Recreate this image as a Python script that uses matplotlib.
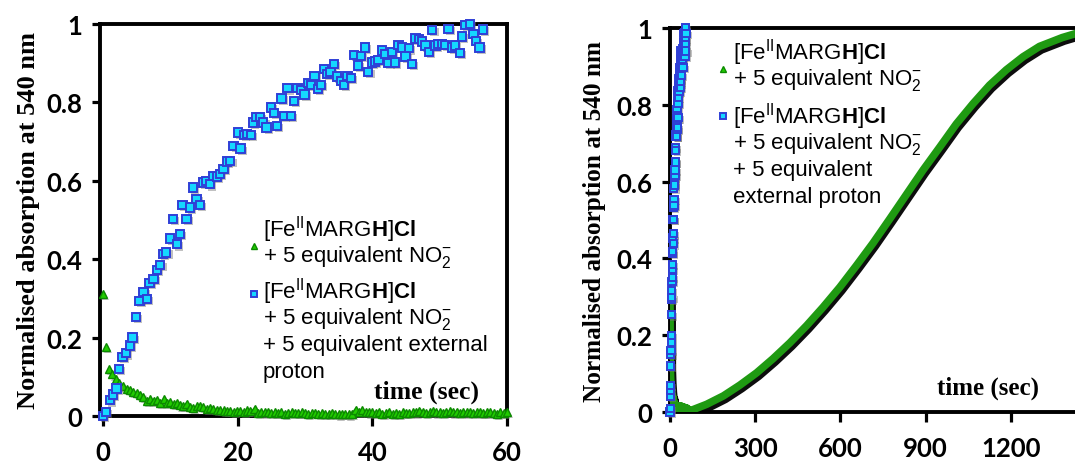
import numpy as np
import matplotlib
matplotlib.use("Agg")
import matplotlib.pyplot as plt
import matplotlib.patheffects as pe

plt.rcParams['mathtext.fontset'] = 'custom'
plt.rcParams['mathtext.rm'] = 'Liberation Sans'
plt.rcParams['mathtext.it'] = 'Liberation Sans:italic'
plt.rcParams['mathtext.bf'] = 'Liberation Sans:bold'

# --- data: proton-assisted run (squares), seconds vs normalised A540
t_prot = [0.0, 0.4, 1.0, 1.5, 2.0, 2.4, 2.9, 3.4, 4.0, 4.4, 4.9, 5.4, 6.0, 6.5, 6.9,
          7.5, 8.0, 8.5, 8.9, 9.4, 9.9, 10.4, 11.0, 11.4, 11.8, 12.4, 12.9, 13.4, 13.9,
          14.4, 14.9, 15.3, 15.9, 16.4, 16.9, 17.4, 17.9, 18.4, 18.9, 19.4, 20.0, 20.4,
          20.9, 21.4, 22.0, 22.3, 22.7, 23.3, 23.8, 24.3, 24.9, 25.4, 25.8, 26.5, 26.9,
          27.4, 27.9, 28.4, 28.9, 29.4, 29.9, 30.4, 30.9, 31.4, 31.9, 32.4, 32.8, 33.3,
          33.8, 34.3, 34.8, 35.3, 35.8, 36.3, 36.8, 37.3, 37.9, 38.3, 38.9, 39.4, 39.9,
          40.4, 40.9, 41.4, 41.9, 42.4, 42.9, 43.4, 43.9, 44.4, 44.9, 45.4, 45.9, 46.4,
          46.9, 47.4, 47.9, 48.4, 48.9, 49.4, 49.8, 50.3, 50.8, 51.3, 51.8, 52.3, 53.0,
          53.3, 53.8, 54.5, 55.0, 55.4, 55.9, 56.4]
a_prot = [0.0, 0.01, 0.04, 0.055, 0.07, 0.12, 0.15, 0.16, 0.18, 0.2, 0.253, 0.294, 0.317,
          0.298, 0.34, 0.35, 0.372, 0.385, 0.413, 0.417, 0.453, 0.502, 0.438, 0.464, 0.538,
          0.502, 0.532, 0.583, 0.553, 0.538, 0.596, 0.6, 0.591, 0.613, 0.611, 0.617, 0.63,
          0.649, 0.651, 0.689, 0.723, 0.682, 0.717, 0.719, 0.717, 0.749, 0.763, 0.763, 0.749,
          0.736, 0.787, 0.773, 0.74, 0.81, 0.765, 0.836, 0.766, 0.804, 0.836, 0.832, 0.82,
          0.85, 0.845, 0.868, 0.834, 0.845, 0.885, 0.872, 0.877, 0.898, 0.866, 0.855, 0.845,
          0.868, 0.862, 0.921, 0.894, 0.919, 0.94, 0.877, 0.902, 0.904, 0.909, 0.932, 0.923,
          0.9, 0.928, 0.902, 0.946, 0.94, 0.917, 0.938, 0.898, 0.963, 0.962, 0.955, 0.945,
          0.929, 0.985, 0.945, 0.949, 0.949, 0.946, 0.987, 0.94, 0.945, 0.926, 0.968, 0.997,
          1.0, 0.974, 0.957, 0.94, 0.986]

# --- data: nitrite only run (triangles), first minute
t_nit = [0.0, 0.45, 0.9, 1.4, 1.9, 2.4, 3.0, 3.5, 4.0, 4.5, 5.0, 5.5, 6.0, 6.5, 7.0, 7.5,
         8.0, 8.5, 9.0, 9.5, 10.0, 10.5, 11.0, 11.4, 11.9, 12.4, 12.9, 13.4, 13.9, 14.4,
         14.9, 15.4, 15.9, 16.4, 16.9, 17.4, 17.9, 18.4, 18.9, 19.4, 19.9, 20.4, 20.9,
         21.4, 21.9, 22.5, 23.0, 23.5, 24.0, 24.5, 25.0, 25.5, 26.0, 26.5, 27.0, 27.5,
         28.0, 28.5, 29.0, 29.5, 30.0, 30.5, 31.0, 31.5, 32.0, 32.5, 33.0, 33.5, 34.0,
         34.5, 35.0, 35.5, 36.0, 36.5, 37.0, 37.5, 38.0, 38.5, 39.0, 39.5, 40.0, 40.5,
         41.0, 41.5, 42.0, 42.5, 43.0, 43.5, 44.0, 44.5, 45.0, 45.5, 46.0, 46.5, 47.0,
         47.5, 48.0, 48.5, 49.0, 49.5, 50.0, 50.5, 51.0, 51.5, 52.0, 52.5, 53.0, 53.5,
         54.0, 54.5, 55.0, 55.5, 56.0, 56.5, 57.0, 57.5, 58.0, 58.5, 59.0, 59.5, 60.0]
a_nit = [0.311, 0.177, 0.119, 0.106, 0.094, 0.085, 0.077, 0.07, 0.066, 0.061, 0.058, 0.053,
         0.049, 0.038, 0.044, 0.038, 0.041, 0.034, 0.043, 0.034, 0.036, 0.03, 0.032, 0.027,
         0.026, 0.03, 0.024, 0.02, 0.026, 0.026, 0.022, 0.019, 0.02, 0.017, 0.016, 0.015,
         0.014, 0.012, 0.013, 0.011, 0.012, 0.013, 0.011, 0.014, 0.012, 0.018, 0.008,
         0.01, 0.009, 0.01, 0.008, 0.009, 0.007, 0.009, 0.006, 0.008, 0.01, 0.007, 0.008,
         0.009, 0.007, 0.006, 0.008, 0.007, 0.006, 0.007, 0.005, 0.006, 0.007, 0.005,
         0.004, 0.006, 0.005, 0.004, 0.005, 0.015, 0.011, 0.016, 0.01, 0.009, 0.011, 0.007,
         0.009, 0.006, 0.008, 0.01, 0.006, 0.008, 0.005, 0.009, 0.008, 0.007, 0.01, 0.009,
         0.013, 0.011, 0.008, 0.01, 0.012, 0.009, 0.011, 0.008, 0.01, 0.012, 0.009, 0.011,
         0.008, 0.01, 0.009, 0.011, 0.008, 0.01, 0.009, 0.007, 0.009, 0.01, 0.008, 0.006,
         0.009, 0.008, 0.01]

# nitrite only run, long time scale (after the first minute)
t_nit_long = [70, 129, 188, 246, 305, 363, 422, 481, 539, 598, 657, 715, 774, 832, 891,
              950, 1008, 1067, 1125, 1184, 1243, 1301, 1381, 1440, 1500]
a_nit_long = [0.003, 0.02, 0.042, 0.07, 0.102, 0.139, 0.18, 0.225, 0.273, 0.325, 0.382,
              0.44, 0.503, 0.566, 0.63, 0.69, 0.75, 0.803, 0.851, 0.891, 0.925, 0.952,
              0.975, 0.988, 1.0]

y_ticks = [0, 0.2, 0.4, 0.6, 0.8, 1.0]
y_ticklabels = ["0", "0.2", "0.4", "0.6", "0.8", "1"]
x_ticks_left = [0, 20, 40, 60]
x_ticks_right = [0, 300, 600, 900, 1200]

label_nit = ["[Fe$^{\\mathrm{II}}$MARG$\\mathbf{H}$]$\\mathbf{Cl}$",
             "+ 5 equivalent NO$_2^{-}$"]
label_prot_left = ["[Fe$^{\\mathrm{II}}$MARG$\\mathbf{H}$]$\\mathbf{Cl}$",
                   "+ 5 equivalent NO$_2^{-}$",
                   "+ 5 equivalent external",
                   "proton"]
label_prot_right = ["[Fe$^{\\mathrm{II}}$MARG$\\mathbf{H}$]$\\mathbf{Cl}$",
                    "+ 5 equivalent NO$_2^{-}$",
                    "+ 5 equivalent",
                    "external proton"]

W, H = 1075, 464
fig = plt.figure(figsize=(W / 100, H / 100), dpi=100)

SQ = dict(marker='s', ms=6.0, mfc='#14d8ff', mec='#2f3fd6', mew=1.4, ls='none')
TRI = dict(marker='^', ms=5.8, mfc='#22cc00', mec='#0b8a00', mew=1.0, ls='none')
shadow = [pe.SimplePatchShadow(offset=(1.5, -1.5), shadow_rgbFace='#777777', alpha=0.45),
          pe.Normal()]


def px_ax(l, r, t, b):
    return [l / W, 1 - b / H, (r - l) / W, (b - t) / H]


def style(ax):
    for s in ax.spines.values():
        s.set_linewidth(2.8)
    ax.tick_params(direction='out', length=6, width=2.3, pad=7)
    ax.tick_params(axis='x', length=7, pad=10)
    for lab in ax.get_xticklabels() + ax.get_yticklabels():
        lab.set_fontfamily('Lato')
        lab.set_fontweight('bold')
        lab.set_fontsize(18.5)


def legend_block(mx, my, marker_style, lines, tx, ty, step, size=16):
    fig.add_artist(plt.Line2D([mx / W], [1 - my / H], transform=fig.transFigure,
                              **{**marker_style, 'ms': 4.5}))
    for i, txt in enumerate(lines):
        fig.text(tx / W, 1 - (ty + i * step) / H, txt, fontsize=size,
                 family='Liberation Sans', va='center', ha='left')


# left panel: first minute
ax1 = fig.add_axes(px_ax(100, 507, 25, 417))
ax1.plot(t_nit, a_nit, path_effects=shadow, clip_on=False, zorder=3, **TRI)
ax1.plot(t_prot, a_prot, path_effects=shadow, clip_on=False, zorder=4, **SQ)
ax1.set_xlim(-0.45, 60)
ax1.set_ylim(0, 1)
ax1.set_xticks(x_ticks_left)
ax1.set_yticks(y_ticks)
ax1.set_yticklabels(y_ticklabels)
style(ax1)
ax1.set_ylabel("Normalised absorption at 540 nm", family='Liberation Serif',
               fontweight='bold', fontsize=19, labelpad=4)
ax1.text(0.803, 0.064, "time (sec)", transform=ax1.transAxes, family='Liberation Serif',
         fontweight='bold', fontsize=18.5, ha='center', va='center')

# right panel: full run
ax2 = fig.add_axes(px_ax(670, 1096, 29, 413))
t_full = t_nit + t_nit_long
a_full = a_nit + a_nit_long
ax2.plot(t_full, a_full, color='#1f9a12', lw=5.5, solid_capstyle='round', zorder=3,
         path_effects=[pe.SimpleLineShadow(offset=(1.5, -2.5), shadow_color='black',
                                           alpha=0.95), pe.Normal()])
ax2.plot(t_prot, a_prot, path_effects=shadow, clip_on=False, zorder=4,
         **{**SQ, 'ms': 5.2})
ax2.set_xlim(0, 1500)
ax2.set_ylim(0, 1)
ax2.set_xticks(x_ticks_right)
ax2.set_yticks(y_ticks)
ax2.set_yticklabels(y_ticklabels)
style(ax2)
ax2.set_ylabel("Normalised absorption at 540 nm", family='Liberation Serif',
               fontweight='bold', fontsize=18.2, labelpad=7)
fig.text(988 / W, 1 - 388 / H, "time (sec)", family='Liberation Serif',
         fontweight='bold', fontsize=18, ha='center', va='center')

legend_block(254, 247, TRI, label_nit, 263, 230, 27)
legend_block(254, 295, SQ, label_prot_left, 263, 292, 26.7)
legend_block(723, 70, TRI, label_nit, 733, 53, 27)
legend_block(723, 117, SQ, label_prot_right, 733, 117, 27)

fig.savefig("out.png", dpi=100)
